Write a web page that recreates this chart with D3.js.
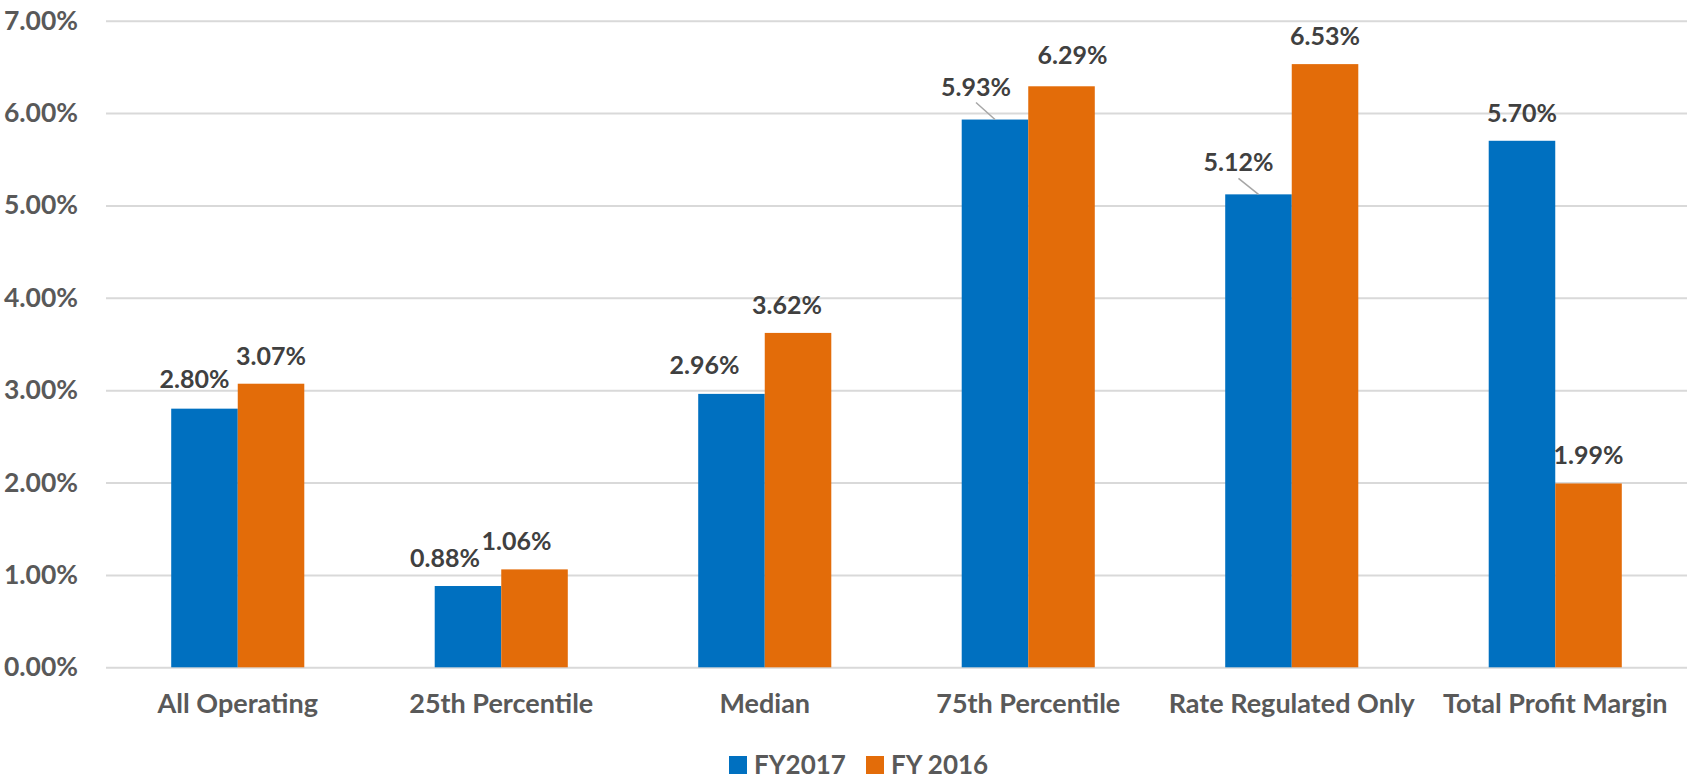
<!DOCTYPE html>
<html>
<head>
<meta charset="utf-8">
<script src="https://cdn.jsdelivr.net/npm/d3@7"></script>
<style>
  html, body { margin: 0; padding: 0; background: #ffffff; }
  svg { display: block; }
  text { font-family: Lato, "Open Sans", sans-serif; font-weight: bold; }
</style>
</head>
<body>
<svg id="chart" width="1690" height="779"></svg>
<script>
// ---- data ----
const categories = ["All Operating", "25th Percentile", "Median", "75th Percentile", "Rate Regulated Only", "Total Profit Margin"];
const seriesNames = ["FY2017", "FY 2016"];
const fy2017 = [2.80, 0.88, 2.96, 5.93, 5.12, 5.70];
const fy2016 = [3.07, 1.06, 3.62, 6.29, 6.53, 1.99];
const yTickValues = [0, 1, 2, 3, 4, 5, 6, 7];

// ---- layout / style (not data) ----
const colors = ["#0070C0", "#E36C09"];
const labelDx2017 = [-10, -23, -27, -19, -20, 0];
const labelDy2017 = [-2, 0, -1, -5, -4, 0];
const labelDx2016 = [0, -18, -11, 11, 0, 0];
const labelDy2016 = [0, 0, 0, -3, 0, 0];
const leader2017 = [false, false, false, true, true, false];

const svg = d3.select("#chart");
const plotLeft = 106, plotRight = 1687, plotTop = 20.7, plotBottom = 667.3;

const x0 = d3.scaleBand().domain(categories).range([plotLeft, plotRight]).paddingInner(0).paddingOuter(0);
const band = x0.bandwidth();
const barW = band / 3.96;
const gap = band - 2 * barW;
const x1 = d3.scaleBand().domain(seriesNames).range([gap / 2, band - gap / 2]).padding(0);
const y = d3.scaleLinear().domain([0, 7]).range([plotBottom, plotTop]);

// gridlines + y tick labels
const yAxis = d3.axisLeft(y)
  .tickValues(yTickValues)
  .tickSize(-(plotRight - plotLeft))
  .tickPadding(28)
  .tickFormat(d => d.toFixed(2) + "%");
const gy = svg.append("g").attr("transform", `translate(${plotLeft},0)`).call(yAxis);
gy.select(".domain").remove();
gy.selectAll(".tick line").attr("stroke", "#D9D9D9").attr("stroke-width", 2);
gy.selectAll(".tick text")
  .attr("fill", "#595959")
  .style("font-size", "26.5px")
  .style("font-family", "Lato, sans-serif")
  .style("font-weight", "bold");

// bars
const rows = categories.map((c, i) => ({ cat: c, i, vals: [fy2017[i], fy2016[i]] }));
const groups = svg.append("g").selectAll("g.grp").data(rows).join("g")
  .attr("class", "grp")
  .attr("transform", d => `translate(${x0(d.cat)},0)`);

groups.selectAll("rect").data(d => d.vals.map((v, s) => ({ v, s, i: d.i }))).join("rect")
  .attr("x", d => x1(seriesNames[d.s]))
  .attr("width", x1.bandwidth())
  .attr("y", d => y(d.v))
  .attr("height", d => y(0) - y(d.v))
  .attr("fill", d => colors[d.s]);

// leader lines
groups.selectAll("line.leader").data(d => leader2017[d.i] ? [{ v: fy2017[d.i], i: d.i }] : []).join("line")
  .attr("class", "leader")
  .attr("x1", d => x1(seriesNames[0]) + x1.bandwidth() / 2 + labelDx2017[d.i])
  .attr("y1", d => y(d.v) - 19 + labelDy2017[d.i] + 7)
  .attr("x2", d => x1(seriesNames[0]) + x1.bandwidth() / 2)
  .attr("y2", d => y(d.v))
  .attr("stroke", "#A6A6A6")
  .attr("stroke-width", 1.5);

// data labels
groups.selectAll("text.lbl").data(d => d.vals.map((v, s) => ({ v, s, i: d.i }))).join("text")
  .attr("class", "lbl")
  .attr("x", d => x1(seriesNames[d.s]) + x1.bandwidth() / 2 + (d.s === 0 ? labelDx2017[d.i] : labelDx2016[d.i]))
  .attr("y", d => y(d.v) - 19 + (d.s === 0 ? labelDy2017[d.i] : labelDy2016[d.i]))
  .attr("text-anchor", "middle")
  .attr("fill", "#404040")
  .style("font-size", "25px")
  .text(d => d.v.toFixed(2) + "%");

// x axis labels
const xAxis = d3.axisBottom(x0).tickSize(0).tickPadding(0);
const gx = svg.append("g").attr("transform", `translate(0,${plotBottom})`).call(xAxis);
gx.select(".domain").remove();
gx.selectAll(".tick text")
  .attr("y", 46)
  .attr("dy", 0)
  .attr("fill", "#595959")
  .style("font-size", "27px")
  .style("font-family", "Lato, sans-serif")
  .style("font-weight", "bold");

// legend
const legendX = [729, 866];
const lg = svg.append("g").selectAll("g").data(seriesNames).join("g")
  .attr("transform", (d, i) => `translate(${legendX[i]},756)`);
lg.append("rect").attr("width", 18).attr("height", 18).attr("fill", (d, i) => colors[i]);
lg.append("text").attr("x", 25).attr("y", 18)
  .attr("fill", "#595959")
  .style("font-size", "26px")
  .text(d => d);
</script>
</body>
</html>
